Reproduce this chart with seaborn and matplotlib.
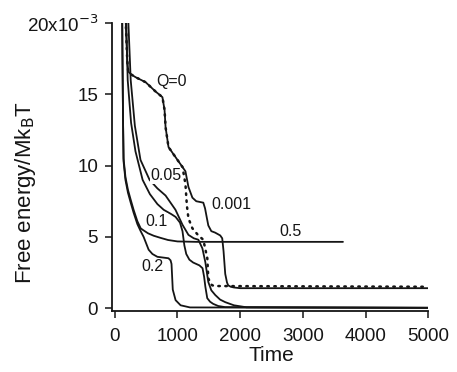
import pandas as pd
import matplotlib
matplotlib.use('Agg')
import matplotlib.pyplot as plt
import seaborn as sns

# free energy (units of 1e-3 Mk_B T) vs time, one curve per Q
t_q0 = [100, 150, 175, 200, 215, 260, 333, 492, 650, 760, 794, 810, 857, 936, 1000, 1080,
        1127, 1150, 1175, 1238, 1333, 1412, 1476, 1492, 1530, 1555, 1600, 5000]
f_q0 = [40, 25, 20, 17.3, 16.6, 16.4, 16.2, 15.85, 15.2, 14.8, 13.9, 12.7, 11.3, 10.8, 10.4, 9.9,
        8.7, 7.2, 6.3, 5.6, 5.1, 4.8, 3.5, 2.1, 1.7, 1.6, 1.55, 1.5]

t_q001 = [100, 150, 175, 200, 215, 260, 333, 492, 650, 760, 794, 810, 857, 936, 1000, 1080,
          1127, 1175, 1238, 1300, 1412, 1440, 1470, 1492, 1540, 1600, 1682, 1714, 1735, 1762,
          1790, 1809, 1850, 1900, 2000, 5000]
f_q001 = [40, 25, 20, 17.3, 16.6, 16.4, 16.2, 15.85, 15.2, 14.8, 13.9, 12.7, 11.3, 10.8, 10.4, 9.9,
          9.6, 8.5, 7.75, 7.5, 7.4, 7.0, 6.3, 5.8, 5.4, 5.3, 5.1, 4.9, 4.0, 2.4,
          1.8, 1.6, 1.5, 1.45, 1.4, 1.4]

t_q005 = [130, 180, 254, 320, 410, 555, 680, 810, 968, 1080, 1175, 1260, 1333, 1397, 1444,
          1492, 1540, 1603, 1680, 1762, 1900, 2100, 5000]
f_q005 = [40, 24, 16, 12.8, 10.4, 9.0, 8.4, 7.9, 6.9, 5.85, 5.14, 4.9, 4.8, 4.2, 3.24,
          1.83, 1.25, 0.92, 0.6, 0.42, 0.2, 0.06, 0.03]

t_q01 = [110, 160, 206, 260, 330, 444, 560, 680, 780, 900, 970, 1040, 1080, 1110, 1140, 1190,
         1250, 1350, 1400, 1425, 1445, 1475, 1520, 1570, 1650, 1760, 5000]
f_q01 = [40, 24, 16, 13, 11, 9.0, 8.0, 7.3, 6.9, 6.6, 6.4, 6.0, 5.4, 4.4, 3.8, 3.4,
         3.2, 3.0, 2.8, 2.2, 1.5, 0.7, 0.45, 0.3, 0.15, 0.07, 0.02]

t_q02 = [95, 110, 122, 132, 140, 170, 210, 254, 300, 360, 413, 460, 540, 600, 680, 857,
         890, 905, 915, 925, 970, 1050, 1200, 5000]
f_q02 = [40, 25, 18, 13, 10.3, 9.0, 8.1, 7.4, 6.7, 5.9, 5.4, 5.0, 4.1, 3.8, 3.6, 3.5,
         3.35, 3.1, 2.2, 1.3, 0.56, 0.2, 0.05, 0.02]

t_q05 = [95, 110, 122, 132, 140, 170, 210, 254, 300, 360, 413, 444, 530, 620, 730, 850,
         1000, 1300, 3640]
f_q05 = [40, 25, 18, 13, 10.5, 9.2, 8.3, 7.6, 6.9, 6.1, 5.6, 5.5, 5.25, 5.08, 4.93, 4.78,
         4.68, 4.65, 4.65]

# curve labels and where they sit
labels = ['Q=0', '0.05', '0.001', '0.1', '0.5', '0.2']
label_t = [905, 810, 1857, 667, 2810, 603]
label_f = [15.9, 9.3, 7.3, 6.1, 5.4, 2.9]

sns.set_style('ticks')
plt.rcParams['font.family'] = ['Liberation Sans', 'DejaVu Sans']

fig = plt.figure(figsize=(4.57, 3.72), dpi=100)
ax = fig.add_axes([0.245, 0.164, 0.692, 0.774])

ink = '#151515'
curves = [(t_q001, f_q001), (t_q005, f_q005), (t_q01, f_q01), (t_q02, f_q02), (t_q05, f_q05)]
for tt, ff in curves:
    sns.lineplot(x=tt, y=ff, ax=ax, color=ink, lw=1.3, sort=False, estimator=None)
sns.lineplot(x=t_q0, y=f_q0, ax=ax, color=ink, lw=1.8, sort=False, estimator=None,
             linestyle=(0, (0.6, 2.2)), dash_capstyle='round')

for lab, tx, fy in zip(labels, label_t, label_f):
    ax.text(tx, fy, lab, fontsize=11.5, ha='center', va='center', color=ink,
            bbox=dict(fc='white', ec='none', pad=0.3) if lab in ('Q=0', '0.05', '0.1') else None)

ax.set_xlim(-45, 5000)
ax.set_ylim(-0.2, 20)
ax.set_xticks([0, 1000, 2000, 3000, 4000, 5000])
ax.set_yticks([0, 5, 10, 15, 20])
ax.set_yticklabels(['0', '5', '10', '15', '20x10$^{-3}$'])
ax.tick_params(labelsize=13.5, length=5, width=1.1, colors=ink)
ax.tick_params(axis='x', pad=7)
ax.tick_params(axis='y', pad=5)
ax.set_xlabel('Time', fontsize=15, color=ink)
ax.set_ylabel('Free energy/Mk$_\\mathrm{B}$T', fontsize=16, color=ink)
ax.xaxis.set_label_coords(0.503, -0.12)
ax.yaxis.set_label_coords(-0.235, 0.41)
for s in ['left', 'bottom']:
    ax.spines[s].set_linewidth(1.3)
    ax.spines[s].set_color(ink)
sns.despine(ax=ax)

fig.savefig('out.png', dpi=100)
